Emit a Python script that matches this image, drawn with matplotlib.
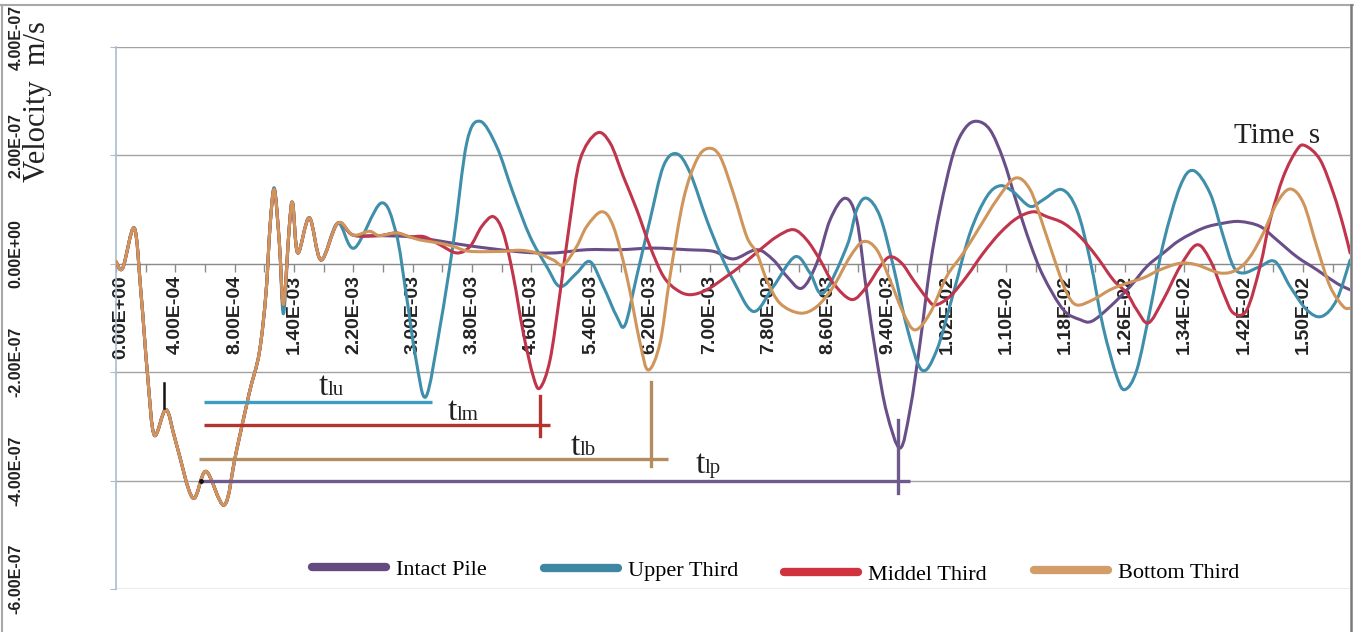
import matplotlib
matplotlib.use("Agg")
import numpy as np
import matplotlib.pyplot as plt
from matplotlib.path import Path
from matplotlib.patches import PathPatch
from matplotlib.lines import Line2D
from matplotlib.legend import Legend
from matplotlib.transforms import ScaledTranslation

# ---------------- data ----------------
# x positions are category positions (one unit = one labelled tick step)
tick_labels = ['0.00E+00', '4.00E-04', '8.00E-04', '1.40E-03', '2.20E-03', '3.00E-03',
               '3.80E-03', '4.60E-03', '5.40E-03', '6.20E-03', '7.00E-03', '7.80E-03',
               '8.60E-03', '9.40E-03', '1.02E-02', '1.10E-02', '1.18E-02', '1.26E-02',
               '1.34E-02', '1.42E-02', '1.50E-02']
x_end = 20.79
y_ticks = [-6e-7, -4e-7, -2e-7, 0.0, 2e-7, 4e-7]
series_names = ['Intact Pile', 'Upper Third', 'Middel Third', 'Bottom Third']

# common early transient (velocity in 1e-7 m/s)
early_u = [0.000, 0.113, 0.308, 0.421, 0.534, 0.645, 0.842, 1.011, 1.292, 1.516, 1.825, 2.022,
           2.246, 2.414, 2.527, 2.595, 2.667, 2.752, 2.822, 2.920, 2.977, 3.062, 3.257, 3.454, 3.735]
early_v = [0.04, -0.08, 0.66, -0.54, -2.08, -3.16, -2.69, -3.30, -4.32, -3.83, -4.45, -3.49,
           -2.38, -1.64, -0.54, 0.69, 1.37, 0.39, -0.75, 0.69, 1.12, 0.20, 0.85, 0.07, 0.75]
early_v_upper = [0.04, -0.08, 0.66, -0.54, -2.08, -3.16, -2.69, -3.30, -4.32, -3.83, -4.45, -3.49,
                 -2.38, -1.64, -0.54, 0.69, 1.40, 0.39, -0.92, 0.69, 1.12, 0.20, 0.85, 0.07, 0.75]

intact_u = early_u + [3.993, 4.437, 4.942, 5.459, 5.965, 6.807, 7.368, 7.931, 8.492, 9.053,
                      9.616, 10.064, 10.401, 10.795, 11.075, 11.301, 11.554, 11.806, 12.030, 12.283,
                      12.480, 12.649, 12.817, 12.986, 13.210, 13.378, 13.547, 13.715, 13.884, 14.108,
                      14.305, 14.502, 14.726, 14.950, 15.176, 15.400, 15.624, 15.962, 16.243, 16.440,
                      16.748, 17.085, 17.367, 17.646, 17.928, 18.321, 18.658, 18.938, 19.275, 19.557,
                      19.894, 20.231, 20.568, 20.792]
intact_v = early_v + [0.53, 0.52, 0.50, 0.42, 0.33, 0.22, 0.20, 0.26, 0.26, 0.29,
                      0.26, 0.23, 0.09, 0.26, 0.07, -0.23, -0.45, 0.01, 0.81, 1.21,
                      0.81, -0.54, -1.77, -2.75, -3.40, -2.69, -1.46, -0.05, 1.00, 2.04,
                      2.50, 2.63, 2.47, 1.92, 1.12, 0.38, -0.23, -0.85, -1.03, -1.06,
                      -0.79, -0.42, -0.05, 0.20, 0.44, 0.66, 0.75, 0.78, 0.69, 0.44,
                      0.13, -0.11, -0.36, -0.48]

upper_u = early_u + [4.015, 4.465, 4.718, 4.886, 5.055, 5.223, 5.459, 5.683, 5.909, 6.133,
                     6.415, 6.689, 6.976, 7.257, 7.481, 7.762, 7.987, 8.211, 8.436, 8.576,
                     8.773, 8.997, 9.222, 9.447, 9.671, 9.953, 10.177, 10.396, 10.738, 11.075,
                     11.441, 11.693, 11.917, 12.312, 12.480, 12.649, 12.873, 13.097, 13.323, 13.576,
                     13.829, 14.108, 14.389, 14.671, 14.895, 15.114, 15.400, 15.619, 15.934, 16.187,
                     16.411, 16.630, 16.861, 17.001, 17.198, 17.422, 17.646, 17.928, 18.152, 18.433,
                     18.657, 18.826, 18.994, 19.275, 19.528, 19.781, 20.062, 20.315, 20.568, 20.792]
upper_v = early_v_upper + [0.29, 1.12, 0.57, -0.54, -1.77, -2.45, -1.16, 0.39, 2.23, 2.63,
                           2.16, 1.31, 0.50, -0.05, -0.42, -0.17, 0.04, -0.42, -0.97, -1.13,
                           -0.23, 0.81, 1.80, 2.03, 1.68, 0.81, 0.20, -0.30, -0.88, -0.42,
                           0.13, -0.17, -0.54, 0.32, 1.00, 1.21, 0.87, -0.05, -1.16, -1.96,
                           -1.59, -0.54, 0.57, 1.24, 1.44, 1.33, 1.06, 1.18, 1.37, 1.00,
                           0.07, -1.16, -2.08, -2.32, -1.96, -0.85, 0.38, 1.43, 1.72, 1.30,
                           0.50, -0.05, -0.17, -0.05, 0.04, -0.42, -0.85, -0.97, -0.66, 0.07]

middle_u = early_u + [3.993, 4.437, 4.718, 4.942, 5.190, 5.459, 5.741, 5.965, 6.162, 6.357,
                      6.526, 6.694, 6.863, 7.031, 7.144, 7.313, 7.481, 7.650, 7.818, 8.099,
                      8.324, 8.548, 8.773, 8.997, 9.222, 9.447, 9.671, 9.953, 10.290, 10.514,
                      10.851, 11.132, 11.412, 11.638, 11.862, 12.086, 12.396, 12.649, 12.873, 13.041,
                      13.238, 13.434, 13.659, 13.799, 14.052, 14.334, 14.613, 14.895, 15.176, 15.456,
                      15.681, 15.962, 16.243, 16.524, 16.804, 17.029, 17.198, 17.394, 17.646, 17.928,
                      18.209, 18.433, 18.657, 18.826, 19.051, 19.275, 19.444, 19.668, 19.894, 20.034,
                      20.286, 20.511, 20.679, 20.792]
middle_v = early_v + [0.53, 0.52, 0.57, 0.50, 0.50, 0.35, 0.20, 0.32, 0.69, 0.87,
                      0.57, -0.23, -1.28, -2.08, -2.29, -1.77, -0.54, 0.81, 1.92, 2.41,
                      2.23, 1.61, 1.00, 0.32, -0.23, -0.48, -0.57, -0.48, -0.23, -0.05,
                      0.26, 0.50, 0.63, 0.44, 0.07, -0.36, -0.66, -0.42, -0.05, 0.13,
                      0.01, -0.30, -0.63, -0.76, -0.60, -0.23, 0.20, 0.57, 0.84, 0.96,
                      0.87, 0.75, 0.50, 0.13, -0.30, -0.54, -0.85, -1.09, -0.66, -0.05,
                      0.35, 0.07, -0.54, -0.91, -0.85, -0.05, 0.81, 1.61, 2.10, 2.18,
                      1.92, 1.30, 0.69, 0.20]

bottom_u = early_u + [3.993, 4.268, 4.437, 4.718, 4.942, 5.122, 5.459, 5.683, 5.965, 6.526,
                      6.807, 7.088, 7.368, 7.537, 7.762, 7.931, 8.184, 8.379, 8.605, 8.829,
                      8.969, 9.166, 9.334, 9.559, 9.785, 9.980, 10.177, 10.401, 10.627, 10.795,
                      10.964, 11.188, 11.525, 11.806, 12.086, 12.367, 12.592, 12.817, 13.041, 13.265,
                      13.462, 13.715, 13.997, 14.277, 14.558, 14.839, 15.147, 15.400, 15.624, 15.850,
                      16.019, 16.187, 16.467, 16.748, 17.029, 17.309, 17.590, 17.928, 18.209, 18.602,
                      18.884, 19.107, 19.331, 19.557, 19.781, 20.005, 20.231, 20.455, 20.679, 20.792]
bottom_v = early_v + [0.53, 0.60, 0.52, 0.57, 0.50, 0.44, 0.38, 0.32, 0.23, 0.23,
                      0.25, 0.20, 0.07, -0.02, 0.32, 0.69, 0.96, 0.69, -0.23, -1.46,
                      -1.96, -1.46, -0.23, 1.18, 1.92, 2.13, 1.98, 1.30, 0.50, 0.20,
                      -0.30, -0.73, -0.91, -0.79, -0.42, 0.13, 0.41, 0.26, -0.30, -0.91,
                      -1.22, -0.91, -0.23, 0.20, 0.69, 1.18, 1.58, 1.37, 0.69, -0.05,
                      -0.54, -0.76, -0.66, -0.48, -0.36, -0.26, -0.11, 0.01, -0.02, -0.17,
                      -0.11, 0.13, 0.57, 1.12, 1.38, 1.12, 0.32, -0.42, -0.79, -0.82]

# arrival-time annotations (start, end, level, marker position, marker range) in 1e-7 units
ann_names = ['lu', 'lm', 'lb', 'lp']
ann_start = [1.488, 1.488, 1.404, 1.432]
ann_end = [5.324, 7.313, 9.306, 13.378]
ann_level = [-2.546, -2.983, -3.598, -4.00]
ann_tick_u = [None, 7.144, 9.014, 13.181]
ann_tick_lo = [None, -3.186, -3.727, -4.231]
ann_tick_hi = [None, -2.448, -2.172, -2.878]
ann_label_u = [3.572, 5.746, 7.818, 9.924]
ann_label_v = [-2.417, -2.878, -3.524, -3.856]
start_mark_u = 0.814
start_mark_v = [-2.66, -2.20]

# ---------------- style ----------------
curve_colors = ['#6a4e88', '#3f8eab', '#c0344c', '#cf955a']
legend_colors = ['#654a80', '#3d87a2', '#d0333d', '#d39d6a']
ann_colors = ['#3c9ec2', '#b2352f', '#b38d62', '#6e5a8c']
SCALE = 1e-7


def smooth_path(xs, ys):
    pts = np.column_stack([np.asarray(xs, float), np.asarray(ys, float)])
    n = len(pts)
    verts = [pts[0]]
    codes = [Path.MOVETO]
    for i in range(n - 1):
        p0 = pts[i - 1] if i > 0 else pts[i]
        p1 = pts[i]
        p2 = pts[i + 1]
        p3 = pts[i + 2] if i + 2 < n else pts[i + 1]
        verts += [p1 + (p2 - p0) / 6.0, p2 - (p3 - p1) / 6.0, p2]
        codes += [Path.CURVE4] * 3
    return Path(verts, codes)


W, H = 1354, 632
fig = plt.figure(figsize=(W / 100, H / 100), dpi=100)
ax = fig.add_axes([116 / W, 1 - 589 / H, (1350 - 116) / W, (589 - 47) / H])
ax.set_xlim(0, x_end)
ax.set_ylim(-6e-7, 4e-7)

# grid & axes
ax.set_yticks(y_ticks)
ax.yaxis.grid(True, color='#a3a3a3', lw=1.0)
ax.set_axisbelow(True)
for s in ['top', 'right']:
    ax.spines[s].set_visible(False)
ax.spines['bottom'].set_position(('data', 0))
ax.spines['bottom'].set_color('#8a8a8a')
ax.spines['left'].set_color('#a9bccf')
ax.spines['left'].set_linewidth(1.2)

ax.set_xticks(np.arange(len(tick_labels)))
ax.set_xticks(np.arange(0.5, x_end, 1.0), minor=True)
ax.set_xticklabels(tick_labels, rotation=90, fontfamily='Liberation Sans',
                   fontweight='bold', fontsize=14, color='#222222')
ax.tick_params(axis='x', which='both', direction='out', length=6, color='#8a8a8a', width=1)
ax.tick_params(axis='x', which='major', pad=2)
first = ax.get_xticklabels()[0]
first.set_transform(first.get_transform() + ScaledTranslation(5 / 100, 0, fig.dpi_scale_trans))

ax.set_yticklabels(['{:.2E}'.format(v) for v in y_ticks], rotation=90, va='center',
                   fontfamily='Liberation Sans', fontweight='bold', fontsize=11.5, color='#222222')
ax.tick_params(axis='y', length=4.5, color='#a9bccf', pad=62)
for lab in ax.get_yticklabels():
    lab.set_transform(lab.get_transform() + ScaledTranslation(0, 10 / 100, fig.dpi_scale_trans))

# curves
all_u = [intact_u, upper_u, middle_u, bottom_u]
all_v = [intact_v, upper_v, middle_v, bottom_v]
for u, v, c in zip(all_u, all_v, curve_colors):
    p = smooth_path(u, np.asarray(v) * SCALE)
    ax.add_patch(PathPatch(p, fill=False, edgecolor=c, lw=2.2, joinstyle='round',
                           capstyle='round', zorder=3))

# annotations
for i in range(4):
    y = ann_level[i] * SCALE
    ax.plot([ann_start[i], ann_end[i]], [y, y], color=ann_colors[i], lw=2.4,
            solid_capstyle='butt', zorder=4)
    if ann_tick_u[i] is not None:
        ax.plot([ann_tick_u[i], ann_tick_u[i]], [ann_tick_lo[i] * SCALE, ann_tick_hi[i] * SCALE],
                color=ann_colors[i], lw=2.4, zorder=4)
    ax.text(ann_label_u[i], ann_label_v[i] * SCALE, 't', ha='right', va='baseline',
            fontfamily='Liberation Serif', fontsize=24, color='#222222', zorder=5)
    ax.text(ann_label_u[i], ann_label_v[i] * SCALE, ann_names[i], ha='left', va='baseline',
            fontfamily='Liberation Serif', fontsize=15, color='#222222', zorder=5)
ax.plot([start_mark_u, start_mark_u], [start_mark_v[0] * SCALE, start_mark_v[1] * SCALE],
        color='#111111', lw=1.8, zorder=5)
ax.plot([ann_start[3]], [ann_level[3] * SCALE], 'o', color='#111111', ms=2.5, zorder=5)

# legend (one entry each, placed like the reference)
leg_x = [312, 544, 784, 1034]
leg_y = [570, 571, 575, 573]
for name, c, lx, ly in zip(series_names, legend_colors, leg_x, leg_y):
    h = Line2D([], [], color=c, lw=6, solid_capstyle='round')
    leg = Legend(ax, [h], [name], loc='center left',
                 bbox_to_anchor=((lx - 116) / 1234, (589 - ly) / 542),
                 frameon=False, handlelength=3.35, handletextpad=0.45,
                 borderpad=0, borderaxespad=0,
                 prop={'family': 'Liberation Serif', 'size': 16})
    ax.add_artist(leg)

# axis titles
fig.text(38 / W, 1 - 102 / H, 'Velocity  m/s', rotation=90, ha='center', va='center',
         fontfamily='Liberation Serif', fontsize=22, color='#222222')
fig.text(1234 / W, 1 - 143 / H, 'Time  s', ha='left', va='baseline',
         fontfamily='Liberation Serif', fontsize=21, color='#222222')

# chart-area border
fig.add_artist(Line2D([0, 1], [1 - 5 / H, 1 - 5 / H], transform=fig.transFigure,
                      color='#a8a8a8', lw=1.5))
fig.add_artist(Line2D([2 / W, 2 / W], [0, 1 - 5 / H], transform=fig.transFigure,
                      color='#a8a8a8', lw=1.5))
fig.add_artist(Line2D([1351 / W, 1351 / W], [0, 1 - 5 / H], transform=fig.transFigure,
                      color='#7a7a7a', lw=1.8))

fig.savefig('out.png', dpi=100)
